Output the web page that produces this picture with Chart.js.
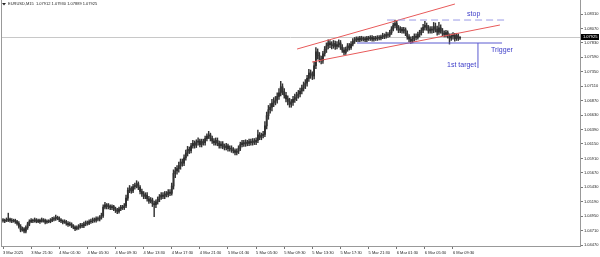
<!DOCTYPE html>
<html>
<head>
<meta charset="utf-8">
<script src="https://cdn.jsdelivr.net/npm/chart.js@4.4.1/dist/chart.umd.min.js"></script>
<style>
  html, body { margin: 0; padding: 0; background: #fff; }
  #wrap { width: 600px; height: 257px; position: relative; }
</style>
</head>
<body>
<div id="wrap"><canvas id="chart_eu"></canvas></div>
<script>
// EURUSD M15, 3 Mar 17:30 -> 6 Mar 10:30 (2025)
const opens = [
  1.0489,1.0488,1.0487,1.0489,1.0490,1.0488,1.0487,1.0488,1.0486,1.0483,
  1.0478,1.0472,1.0474,1.0470,1.0476,1.0482,1.0486,1.0488,1.0487,1.0489,
  1.0486,1.0488,1.0486,1.0489,1.0488,1.0485,1.0487,1.0486,1.0488,1.0490,
  1.0491,1.0493,1.0492,1.0489,1.0487,1.0485,1.0486,1.0483,1.0481,1.0482,
  1.0479,1.0477,1.0474,1.0476,1.0478,1.0480,1.0479,1.0482,1.0484,1.0483,
  1.0486,1.0487,1.0489,1.0488,1.0491,1.0490,1.0493,1.0496,1.0510,1.0514,
  1.0511,1.0512,1.0509,1.0511,1.0507,1.0505,1.0503,1.0507,1.0510,1.0509,
  1.0512,1.0525,1.0538,1.0541,1.0537,1.0544,1.0546,1.0549,1.0543,1.0536,
  1.0532,1.0528,1.0530,1.0524,1.0520,1.0522,1.0516,1.0514,1.0519,1.0523,
  1.0527,1.0530,1.0528,1.0532,1.0531,1.0535,1.0533,1.0545,1.0566,1.0570,
  1.0574,1.0579,1.0585,1.0583,1.0592,1.0600,1.0606,1.0604,1.0612,1.0616,
  1.0613,1.0618,1.0620,1.0614,1.0619,1.0617,1.0624,1.0628,1.0630,1.0624,
  1.0620,1.0617,1.0621,1.0616,1.0612,1.0615,1.0611,1.0609,1.0612,1.0607,
  1.0608,1.0605,1.0604,1.0601,1.0603,1.0608,1.0614,1.0617,1.0615,1.0618,
  1.0616,1.0619,1.0617,1.0620,1.0618,1.0621,1.0630,1.0626,1.0629,1.0631,
  1.0645,1.0662,1.0672,1.0676,1.0683,1.0686,1.0688,1.0694,1.0700,1.0710,
  1.0702,1.0696,1.0690,1.0686,1.0681,1.0684,1.0689,1.0692,1.0696,1.0698,
  1.0703,1.0708,1.0713,1.0716,1.0724,1.0733,1.0730,1.0728,1.0745,1.0768,
  1.0762,1.0756,1.0753,1.0765,1.0772,1.0778,1.0783,1.0780,1.0778,1.0782,
  1.0777,1.0780,1.0783,1.0776,1.0771,1.0767,1.0772,1.0778,1.0775,1.0781,
  1.0786,1.0788,1.0790,1.0788,1.0791,1.0789,1.0790,1.0788,1.0791,1.0790,
  1.0792,1.0789,1.0791,1.0790,1.0792,1.0791,1.0793,1.0795,1.0794,1.0797,
  1.0796,1.0800,1.0806,1.0812,1.0815,1.0808,1.0804,1.0806,1.0803,1.0805,
  1.0799,1.0793,1.0789,1.0786,1.0790,1.0794,1.0792,1.0797,1.0800,1.0804,
  1.0809,1.0812,1.0808,1.0803,1.0806,1.0804,1.0810,1.0806,1.0801,1.0808,
  1.0803,1.0799,1.0797,1.0800,1.0795,1.0791,1.0794,1.0796,1.0790,1.0795,
  1.07912
];
const highs = [
  1.0491,1.0490,1.0492,1.0500,1.0492,1.0491,1.0490,1.0490,1.0488,1.0486,
  1.0481,1.0477,1.0476,1.0479,1.0485,1.0489,1.0491,1.0490,1.0492,1.0491,
  1.0490,1.0490,1.0492,1.0491,1.0490,1.0489,1.0489,1.0491,1.0493,1.0494,
  1.0497,1.0495,1.0494,1.0491,1.0489,1.0489,1.0488,1.0486,1.0485,1.0484,
  1.0481,1.0479,1.0479,1.0481,1.0483,1.0483,1.0485,1.0487,1.0487,1.0489,
  1.0490,1.0492,1.0492,1.0494,1.0494,1.0496,1.0500,1.0514,1.0518,1.0516,
  1.0516,1.0514,1.0514,1.0513,1.0510,1.0508,1.0510,1.0513,1.0513,1.0516,
  1.0530,1.0542,1.0546,1.0544,1.0548,1.0550,1.0554,1.0552,1.0546,1.0540,
  1.0536,1.0534,1.0534,1.0528,1.0526,1.0525,1.0520,1.0522,1.0527,1.0531,
  1.0534,1.0534,1.0536,1.0536,1.0539,1.0539,1.0550,1.0572,1.0576,1.0579,
  1.0585,1.0590,1.0590,1.0597,1.0605,1.0611,1.0610,1.0616,1.0621,1.0620,
  1.0622,1.0625,1.0623,1.0623,1.0623,1.0628,1.0632,1.0636,1.0633,1.0628,
  1.0624,1.0625,1.0625,1.0620,1.0619,1.0619,1.0615,1.0616,1.0615,1.0612,
  1.0612,1.0609,1.0607,1.0607,1.0612,1.0618,1.0621,1.0621,1.0622,1.0621,
  1.0623,1.0623,1.0624,1.0624,1.0625,1.0638,1.0634,1.0633,1.0636,1.0652,
  1.0668,1.0679,1.0682,1.0689,1.0692,1.0694,1.0700,1.0707,1.0719,1.0715,
  1.0707,1.0701,1.0695,1.0691,1.0689,1.0694,1.0698,1.0701,1.0704,1.0708,
  1.0713,1.0718,1.0722,1.0729,1.0739,1.0738,1.0735,1.0752,1.0775,1.0773,
  1.0767,1.0761,1.0769,1.0777,1.0783,1.0788,1.0787,1.0785,1.0787,1.0786,
  1.0785,1.0788,1.0787,1.0780,1.0775,1.0776,1.0782,1.0782,1.0785,1.0790,
  1.0792,1.0793,1.0793,1.0794,1.0794,1.0793,1.0793,1.0794,1.0794,1.0795,
  1.0795,1.0794,1.0794,1.0795,1.0795,1.0796,1.0799,1.0798,1.0801,1.0800,
  1.0804,1.0810,1.0816,1.0821,1.0819,1.0812,1.0810,1.0809,1.0809,1.0808,
  1.0803,1.0797,1.0793,1.0794,1.0798,1.0798,1.0801,1.0804,1.0808,1.0814,
  1.0819,1.0816,1.0812,1.0810,1.0810,1.0817,1.0816,1.0811,1.0817,1.0813,
  1.0807,1.0803,1.0804,1.0803,1.0798,1.0798,1.0800,1.0799,1.0799,1.0798,
  1.07930
];
const lows = [
  1.0485,1.0484,1.0486,1.0486,1.0485,1.0484,1.0485,1.0483,1.0480,1.0475,
  1.0469,1.0470,1.0467,1.0467,1.0473,1.0479,1.0484,1.0484,1.0485,1.0484,
  1.0484,1.0483,1.0485,1.0485,1.0482,1.0483,1.0484,1.0484,1.0486,1.0487,
  1.0488,1.0489,1.0486,1.0484,1.0482,1.0483,1.0480,1.0478,1.0479,1.0476,
  1.0474,1.0471,1.0472,1.0473,1.0475,1.0476,1.0476,1.0479,1.0480,1.0481,
  1.0483,1.0484,1.0485,1.0485,1.0487,1.0487,1.0490,1.0493,1.0507,1.0507,
  1.0507,1.0506,1.0506,1.0504,1.0501,1.0499,1.0500,1.0504,1.0506,1.0506,
  1.0509,1.0521,1.0534,1.0533,1.0534,1.0540,1.0542,1.0539,1.0532,1.0528,
  1.0524,1.0524,1.0520,1.0516,1.0517,1.0511,1.0494,1.0509,1.0515,1.0519,
  1.0523,1.0524,1.0524,1.0527,1.0527,1.0529,1.0530,1.0540,1.0559,1.0565,
  1.0568,1.0573,1.0578,1.0579,1.0588,1.0595,1.0599,1.0600,1.0608,1.0608,
  1.0609,1.0613,1.0610,1.0610,1.0613,1.0613,1.0620,1.0624,1.0620,1.0616,
  1.0613,1.0613,1.0612,1.0608,1.0608,1.0607,1.0605,1.0605,1.0603,1.0603,
  1.0601,1.0600,1.0597,1.0597,1.0599,1.0604,1.0610,1.0611,1.0611,1.0612,
  1.0612,1.0613,1.0613,1.0614,1.0614,1.0617,1.0622,1.0622,1.0625,1.0627,
  1.0640,1.0656,1.0666,1.0670,1.0677,1.0680,1.0683,1.0689,1.0695,1.0697,
  1.0691,1.0685,1.0680,1.0676,1.0676,1.0679,1.0684,1.0687,1.0691,1.0693,
  1.0698,1.0703,1.0707,1.0711,1.0719,1.0724,1.0722,1.0723,1.0740,1.0756,
  1.0751,1.0748,1.0749,1.0761,1.0767,1.0773,1.0775,1.0773,1.0774,1.0772,
  1.0773,1.0776,1.0772,1.0767,1.0763,1.0764,1.0769,1.0771,1.0772,1.0778,
  1.0782,1.0785,1.0785,1.0785,1.0786,1.0786,1.0785,1.0785,1.0787,1.0787,
  1.0786,1.0786,1.0787,1.0787,1.0788,1.0788,1.0790,1.0790,1.0791,1.0792,
  1.0793,1.0797,1.0803,1.0808,1.0804,1.0800,1.0800,1.0799,1.0799,1.0795,
  1.0789,1.0785,1.0782,1.0783,1.0786,1.0788,1.0789,1.0793,1.0796,1.0800,
  1.0804,1.0804,1.0799,1.0799,1.0799,1.0800,1.0801,1.0796,1.0797,1.0799,
  1.0795,1.0793,1.0793,1.0791,1.0781,1.0787,1.0789,1.0786,1.0787,1.0787,
  1.07889
];
const closes = [
  1.0488,1.0487,1.0489,1.0490,1.0488,1.0487,1.0488,1.0486,1.0483,1.0478,
  1.0472,1.0474,1.0470,1.0476,1.0482,1.0486,1.0488,1.0487,1.0489,1.0486,
  1.0488,1.0486,1.0489,1.0488,1.0485,1.0487,1.0486,1.0488,1.0490,1.0491,
  1.0493,1.0492,1.0489,1.0487,1.0485,1.0486,1.0483,1.0481,1.0482,1.0479,
  1.0477,1.0474,1.0476,1.0478,1.0480,1.0479,1.0482,1.0484,1.0483,1.0486,
  1.0487,1.0489,1.0488,1.0491,1.0490,1.0493,1.0496,1.0510,1.0514,1.0511,
  1.0512,1.0509,1.0511,1.0507,1.0505,1.0503,1.0507,1.0510,1.0509,1.0512,
  1.0525,1.0538,1.0541,1.0537,1.0544,1.0546,1.0549,1.0543,1.0536,1.0532,
  1.0528,1.0530,1.0524,1.0520,1.0522,1.0516,1.0514,1.0519,1.0523,1.0527,
  1.0530,1.0528,1.0532,1.0531,1.0535,1.0533,1.0545,1.0566,1.0570,1.0574,
  1.0579,1.0585,1.0583,1.0592,1.0600,1.0606,1.0604,1.0612,1.0616,1.0613,
  1.0618,1.0620,1.0614,1.0619,1.0617,1.0624,1.0628,1.0630,1.0624,1.0620,
  1.0617,1.0621,1.0616,1.0612,1.0615,1.0611,1.0609,1.0612,1.0607,1.0608,
  1.0605,1.0604,1.0601,1.0603,1.0608,1.0614,1.0617,1.0615,1.0618,1.0616,
  1.0619,1.0617,1.0620,1.0618,1.0621,1.0630,1.0626,1.0629,1.0631,1.0645,
  1.0662,1.0672,1.0676,1.0683,1.0686,1.0688,1.0694,1.0700,1.0710,1.0702,
  1.0696,1.0690,1.0686,1.0681,1.0684,1.0689,1.0692,1.0696,1.0698,1.0703,
  1.0708,1.0713,1.0716,1.0724,1.0733,1.0730,1.0728,1.0745,1.0768,1.0762,
  1.0756,1.0753,1.0765,1.0772,1.0778,1.0783,1.0780,1.0778,1.0782,1.0777,
  1.0780,1.0783,1.0776,1.0771,1.0767,1.0772,1.0778,1.0775,1.0781,1.0786,
  1.0788,1.0790,1.0788,1.0791,1.0789,1.0790,1.0788,1.0791,1.0790,1.0792,
  1.0789,1.0791,1.0790,1.0792,1.0791,1.0793,1.0795,1.0794,1.0797,1.0796,
  1.0800,1.0806,1.0812,1.0815,1.0808,1.0804,1.0806,1.0803,1.0805,1.0799,
  1.0793,1.0789,1.0786,1.0790,1.0794,1.0792,1.0797,1.0800,1.0804,1.0809,
  1.0812,1.0808,1.0803,1.0806,1.0804,1.0810,1.0806,1.0801,1.0808,1.0803,
  1.0799,1.0797,1.0800,1.0795,1.0791,1.0794,1.0796,1.0790,1.0795,1.0791,
  1.07925
];

// time axis labels, one every 16 bars (4 hours)
const tickBars = [0,16,32,48,64,80,96,112,128,144,160,176,192,208,224,240,256];
const tickLabels = ["3 Mar 2025","3 Mar 21:30","4 Mar 01:30","4 Mar 05:30","4 Mar 09:30",
  "4 Mar 13:30","4 Mar 17:30","4 Mar 21:30","5 Mar 01:30","5 Mar 05:30","5 Mar 09:30",
  "5 Mar 13:30","5 Mar 17:30","5 Mar 21:30","6 Mar 01:30","6 Mar 05:30","6 Mar 09:30"];
const priceTicks = [1.08310,1.08070,1.07830,1.07590,1.07350,1.07110,1.06870,1.06630,
  1.06390,1.06150,1.05910,1.05670,1.05430,1.05190,1.04950,1.04710,1.04470];

const headerText = "EURUSD,M15  1.07912 1.07930 1.07889 1.07925";
const bidPrice = 1.07925;

// hand drawn objects, [bar, price]
const upperTrend = [[167.3, 1.07728], [257.1, 1.08476]];
const lowerTrend = [[175.8, 1.07512], [282.7, 1.08127]];
const stopLine = [[218.5, 1.08210], [286.7, 1.08210]];
const triggerLine = [[201.4, 1.07828], [283.9, 1.07828]];
const targetLine = [[270.2, 1.07828], [270.2, 1.07412]];
const notes = [
  {text: "stop", bar: 264.0, price: 1.08310},
  {text: "Trigger", bar: 277.6, price: 1.07712},
  {text: "1st target", bar: 252.6, price: 1.07463}
];

const wickData = highs.map((h, i) => ({x: i, y: [lows[i], h]}));
const bodyData = opens.map((o, i) => ({x: i, y: [Math.min(o, closes[i]), Math.max(o, closes[i])]}));

function seg(ctx, sx, sy, pts) {
  ctx.beginPath();
  ctx.moveTo(sx.getPixelForValue(pts[0][0]), sy.getPixelForValue(pts[0][1]));
  ctx.lineTo(sx.getPixelForValue(pts[1][0]), sy.getPixelForValue(pts[1][1]));
  ctx.stroke();
}

const drawings = {
  id: 'drawings',
  beforeDatasetsDraw(chart) {
    const {ctx, chartArea: a, scales: {y}} = chart;
    const by = Math.round(y.getPixelForValue(bidPrice)) + 0.5;
    ctx.save();
    ctx.strokeStyle = '#c8c8c8';
    ctx.lineWidth = 1;
    ctx.beginPath(); ctx.moveTo(a.left, by); ctx.lineTo(a.right, by); ctx.stroke();
    ctx.strokeStyle = '#999';
    ctx.beginPath(); ctx.moveTo(a.left + 0.5, a.top); ctx.lineTo(a.left + 0.5, a.bottom); ctx.stroke();
    ctx.restore();
  },
  afterDatasetsDraw(chart) {
    const {ctx, scales: {x, y}} = chart;
    ctx.save();
    ctx.lineWidth = 1;
    ctx.strokeStyle = '#e85a5a';
    seg(ctx, x, y, upperTrend);
    seg(ctx, x, y, lowerTrend);
    ctx.strokeStyle = '#9a9ae6';
    ctx.setLineDash([7, 4]);
    seg(ctx, x, y, stopLine);
    ctx.setLineDash([]);
    ctx.strokeStyle = '#5a5ad0';
    seg(ctx, x, y, triggerLine);
    seg(ctx, x, y, targetLine);
    ctx.fillStyle = '#3c3cc8';
    ctx.font = '7px "Liberation Sans", Arial, sans-serif';
    ctx.textBaseline = 'middle';
    ctx.textAlign = 'left';
    notes.forEach(n => ctx.fillText(n.text, x.getPixelForValue(n.bar), y.getPixelForValue(n.price)));
    ctx.restore();
  },
  afterDraw(chart) {
    const {ctx, chartArea: a, scales: {y}} = chart;
    const by = Math.round(y.getPixelForValue(bidPrice));
    ctx.save();
    ctx.fillStyle = '#000';
    ctx.fillRect(a.right + 1, by - 3, 18, 6);
    ctx.fillStyle = '#fff';
    ctx.font = '4px "Liberation Sans", Arial, sans-serif';
    ctx.textBaseline = 'middle';
    ctx.fillText(bidPrice.toFixed(5), a.right + 3, by + 0.3);
    // header
    ctx.fillStyle = '#222';
    ctx.beginPath(); ctx.moveTo(2, 3); ctx.lineTo(6, 3); ctx.lineTo(4, 5.5); ctx.closePath(); ctx.fill();
    ctx.fillText(headerText, 8, 4.3);
    ctx.restore();
  }
};

const ctd = document.getElementById('chart_eu');
new Chart(ctd, {
  type: 'bar',
  data: {
    datasets: [{
      label: 'wick',
      data: wickData,
      backgroundColor: '#333',
      barThickness: 0.8,
      grouped: false
    }, {
      label: 'body',
      data: bodyData,
      backgroundColor: '#111',
      barThickness: 1.1,
      minBarLength: 0.6,
      grouped: false
    }]
  },
  options: {
    responsive: true,
    maintainAspectRatio: false,
    animation: false,
    events: [],
    layout: { padding: { left: 1, top: 0, right: 0, bottom: 0 } },
    plugins: { legend: { display: false }, tooltip: { enabled: false } },
    scales: {
      x: {
        type: 'linear',
        min: -1.138,
        max: 328.25,
        offset: false,
        afterBuildTicks: s => { s.ticks = tickBars.map(v => ({value: v})); },
        afterFit: s => { s.height = 11; s.paddingLeft = 0; s.paddingRight = 0; },
        grid: { drawOnChartArea: false, offset: false, tickLength: 3, color: '#777' },
        border: { color: '#999' },
        ticks: {
          align: 'start', padding: 1, maxRotation: 0, autoSkip: false, color: '#222',
          font: { family: 'Liberation Sans', size: 4 },
          callback: (v, k) => tickLabels[k]
        }
      },
      y: {
        position: 'right',
        min: 1.044542,
        max: 1.085427,
        afterBuildTicks: s => { s.ticks = priceTicks.map(v => ({value: v})); },
        afterFit: s => { s.width = 20; s.paddingTop = 0; s.paddingBottom = 0; },
        grid: { drawOnChartArea: false, tickLength: 3, color: '#777' },
        border: { color: '#999' },
        ticks: {
          padding: 1, color: '#222',
          font: { family: 'Liberation Sans', size: 4 },
          callback: v => v.toFixed(5)
        }
      }
    }
  },
  plugins: [drawings]
});
</script>
</body>
</html>
